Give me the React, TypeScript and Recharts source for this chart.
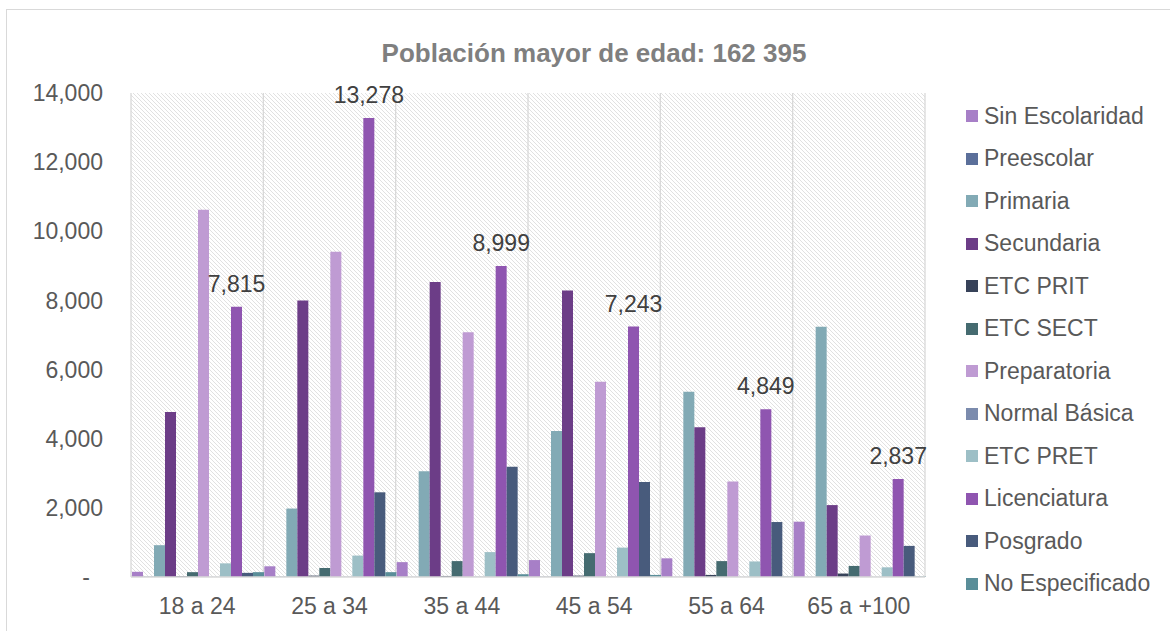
import { BarChart, Bar, XAxis, YAxis, CartesianGrid, LabelList } from "recharts";

const categories = ["18 a 24", "25 a 34", "35 a 44", "45 a 54", "55 a 64", "65 a +100"];

const sinEscolaridad = [150, 310, 430, 490, 540, 1600];
const preescolar = [10, 10, 5, 10, 5, 5];
const primaria = [920, 1980, 3060, 4220, 5360, 7240];
const secundaria = [4770, 8000, 8530, 8290, 4330, 2080];
const etcPrit = [20, 40, 30, 40, 60, 100];
const etcSect = [140, 260, 460, 690, 460, 320];
const preparatoria = [10620, 9410, 7080, 5650, 2760, 1200];
const normalBasica = [5, 10, 10, 10, 5, 5];
const etcPret = [395, 620, 720, 850, 450, 280];
const licenciatura = [7815, 13278, 8999, 7243, 4849, 2837];
const posgrado = [120, 2450, 3190, 2750, 1590, 900];
const noEspecificado = [140, 140, 80, 60, 15, 15];

const yTicks = [0, 2000, 4000, 6000, 8000, 10000, 12000, 14000];

const series = [
  { key: "sinEscolaridad", name: "Sin Escolaridad", values: sinEscolaridad, color: "#a77fc7" },
  { key: "preescolar", name: "Preescolar", values: preescolar, color: "#5b6f9a" },
  { key: "primaria", name: "Primaria", values: primaria, color: "#82aab5" },
  { key: "secundaria", name: "Secundaria", values: secundaria, color: "#6c3d87" },
  { key: "etcPrit", name: "ETC PRIT", values: etcPrit, color: "#374259" },
  { key: "etcSect", name: "ETC SECT", values: etcSect, color: "#456b70" },
  { key: "preparatoria", name: "Preparatoria", values: preparatoria, color: "#bf9bd3" },
  { key: "normalBasica", name: "Normal Básica", values: normalBasica, color: "#7b8bad" },
  { key: "etcPret", name: "ETC PRET", values: etcPret, color: "#9dbfc6" },
  { key: "licenciatura", name: "Licenciatura", values: licenciatura, color: "#8f55b0" },
  { key: "posgrado", name: "Posgrado", values: posgrado, color: "#485b7c" },
  { key: "noEspecificado", name: "No Especificado", values: noEspecificado, color: "#5a8e99" },
];

const data = categories.map((name, i) => {
  const row: Record<string, string | number> = { name };
  series.forEach((s) => {
    row[s.key] = s.values[i];
  });
  return row;
});

const FONT = "'Liberation Sans', Arial, sans-serif";
const fmt = (v: number) => v.toLocaleString("en-US");

const YTick = (props: any) => {
  const { x, y, payload } = props;
  const zero = payload.value === 0;
  return (
    <text
      x={zero ? x - 13 : x}
      y={y}
      dy="0.355em"
      textAnchor="end"
      fill="#595959"
      fontSize={23}
      fontFamily={FONT}
    >
      {zero ? "-" : fmt(payload.value)}
    </text>
  );
};

// vertical lines sit on the category boundaries, not on the tick centres
const boundaryLines = ({ offset }: any) => {
  const step = offset.width / categories.length;
  return categories.map((_, i) => offset.left + i * step).concat(offset.left + offset.width);
};

export default function App() {
  return (
    <div style={{ position: "absolute", left: 0, top: 0, width: 1170, height: 631, background: "#fff", fontFamily: FONT }}>
      <div
        style={{
          position: "absolute",
          left: 6,
          top: 9,
          width: 1164,
          height: 622,
          borderTop: "1.5px solid #d9d9d9",
          borderLeft: "1.5px solid #d9d9d9",
          boxSizing: "border-box",
        }}
      />
      <div
        style={{
          position: "absolute",
          left: 0,
          width: 1188,
          top: 40,
          textAlign: "center",
          fontSize: 26,
          lineHeight: "26px",
          fontWeight: "bold",
          color: "#7f7f7f",
        }}
      >
        Población mayor de edad: 162 395
      </div>
      <BarChart
        width={1170}
        height={631}
        data={data}
        margin={{ top: 93, right: 245, bottom: 14, left: 0 }}
        barCategoryGap={1}
        barGap={0}
        style={{ position: "absolute", left: 0, top: 0 }}
      >
        <defs>
          <pattern id="hatch" patternUnits="userSpaceOnUse" width={4} height={4}>
            <rect width={4} height={4} fill="#ffffff" />
            <path d="M-1,-1 L5,5 M-1,3 L1,5 M3,-1 L5,1" stroke="#d4d4d4" strokeWidth={0.7} />
          </pattern>
        </defs>
        <CartesianGrid
          horizontal={false}
          stroke="#d9d9d9"
          strokeWidth={1.3}
          fill="url(#hatch)"
          fillOpacity={1}
          verticalCoordinatesGenerator={boundaryLines}
        />
        <XAxis
          dataKey="name"
          height={40}
          axisLine={{ stroke: "#d9d9d9", strokeWidth: 1.5 }}
          tickLine={false}
          tickSize={0}
          tickMargin={21}
          tick={{ fill: "#595959", fontSize: 23, fontFamily: FONT }}
          interval={0}
        />
        <YAxis
          width={131}
          domain={[0, 14000]}
          ticks={yTicks}
          axisLine={false}
          tickLine={false}
          tickSize={0}
          tickMargin={28}
          tick={<YTick />}
          interval={0}
        />
        {series.map((s) => (
          <Bar key={s.key} dataKey={s.key} name={s.name} fill={s.color} isAnimationActive={false}>
            {s.key === "licenciatura" && (
              <LabelList
                dataKey={s.key}
                position="top"
                offset={15}
                formatter={(v: any) => fmt(Number(v))}
                fill="#404040"
                fontSize={23}
                fontFamily={FONT}
              />
            )}
          </Bar>
        ))}
      </BarChart>
      <div style={{ position: "absolute", left: 966, top: 95 }}>
        {series.map((s) => (
          <div
            key={s.key}
            style={{ display: "flex", alignItems: "center", height: 42.5, fontSize: 23, color: "#595959", whiteSpace: "nowrap" }}
          >
            <span style={{ display: "inline-block", width: 12, height: 12, background: s.color, marginRight: 6 }} />
            {s.name}
          </div>
        ))}
      </div>
    </div>
  );
}
